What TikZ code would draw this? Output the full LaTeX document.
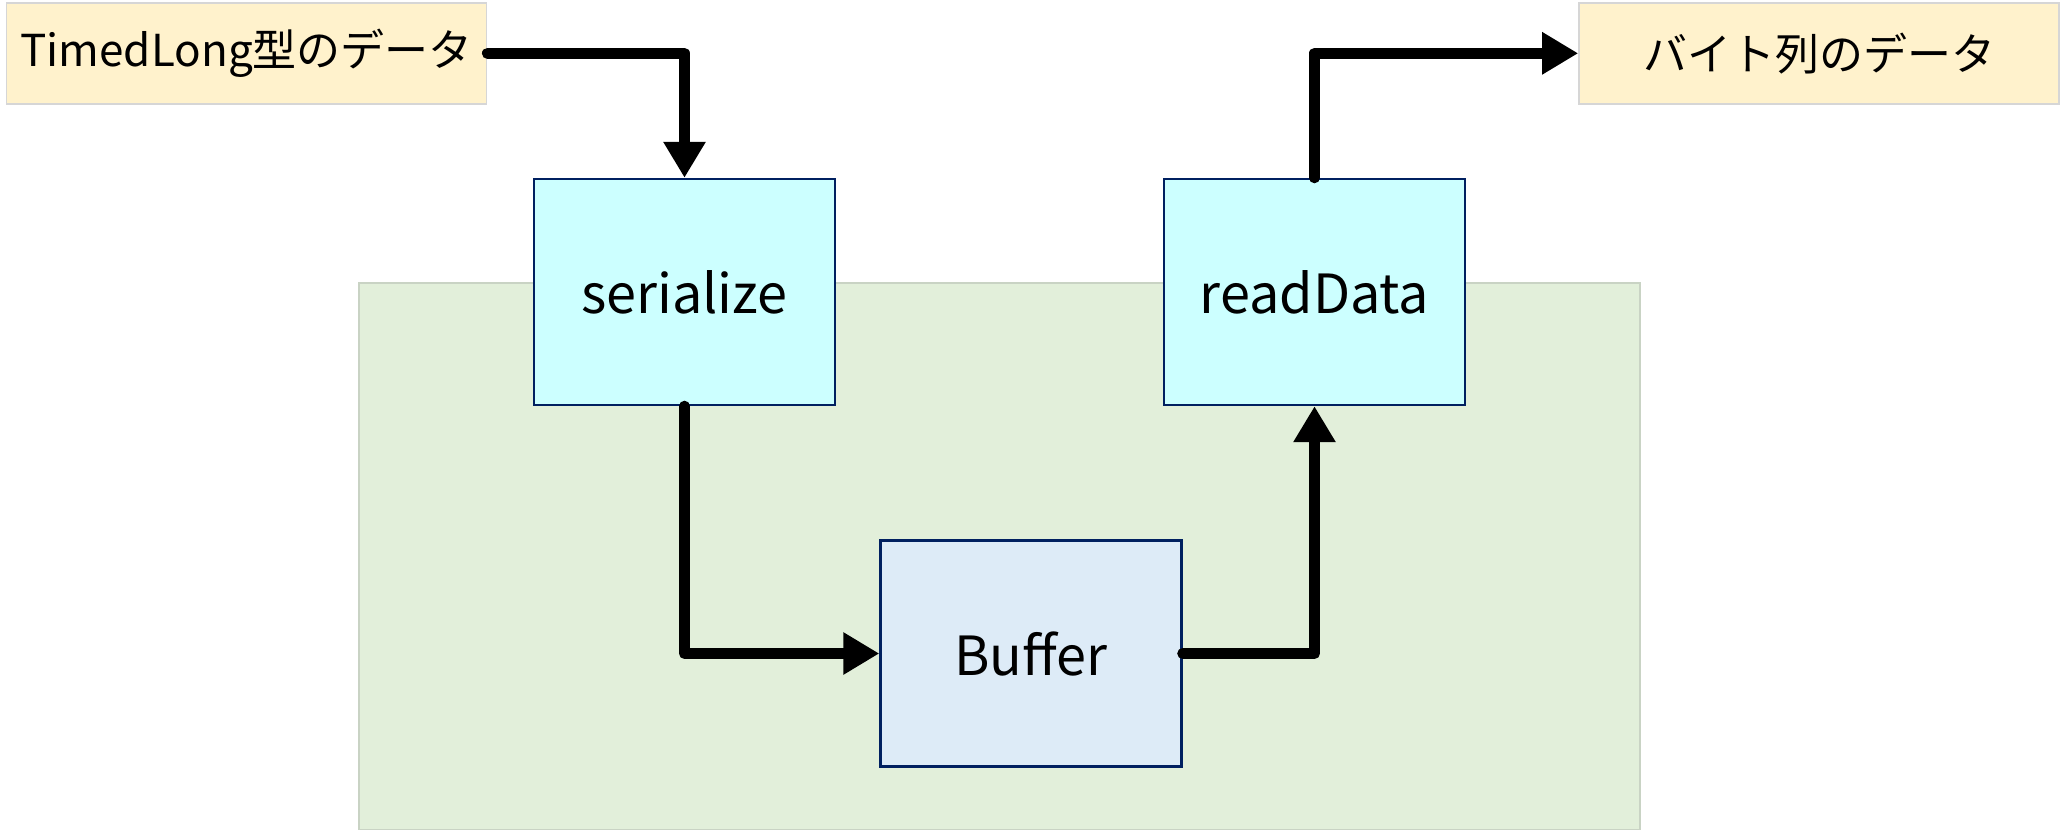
\documentclass[tikz,border=0pt]{standalone}
\usepackage{fontspec}
\setmainfont{Noto Sans CJK JP}
\usetikzlibrary{arrows.meta,positioning}
\definecolor{datafill}{HTML}{FFF2CC}
\definecolor{databorder}{HTML}{D6D6D6}
\definecolor{procfill}{HTML}{CCFFFF}
\definecolor{navy}{HTML}{002060}
\definecolor{buffill}{HTML}{DDEBF7}
\definecolor{areafill}{HTML}{E2EFDA}
\definecolor{areaborder}{HTML}{C9D3C4}
\tikzstyle{data} = [draw=databorder, fill=datafill, rectangle, line width=0.8pt,
    minimum width=240pt, minimum height=50.5pt, font=\fontsize{22}{26}\selectfont]
\tikzstyle{block} = [draw=navy, fill=procfill, rectangle, line width=1.2pt,
    minimum width=150.5pt, minimum height=113pt, font=\fontsize{27}{32}\selectfont]
\tikzstyle{flow} = [line width=5.5pt, line cap=round, line join=round,
    -{Triangle[width=20pt,length=18pt]}]

\begin{document}
\begin{tikzpicture}[x=0.5pt, y=-0.5pt, node distance=315pt]
    \useasboundingbox (0,0) rectangle (2062,831);
    % storage area
    \filldraw [fill=areafill, draw=areaborder, line width=0.8pt] (359,283) rectangle (1640,829.5);
    \node [data] (typed) at (246.6,53.3) {TimedLong型のデータ};
    \node [data, right of=typed, node distance=786.2pt] (bytes) {バイト列のデータ};
    \node [block] (serialize) at (684.5,292) {serialize};
    \node [block, right of=serialize] (readdata) {readData};
    \node [block, fill=buffill] (buffer) at (1031,653.5) {Buffer};
    \draw [flow] (typed) -| (serialize);
    \draw [flow] (serialize) |- (buffer);
    \draw [flow] (buffer) -| (readdata);
    \draw [flow] (readdata) |- (bytes);
\end{tikzpicture}
\end{document}
